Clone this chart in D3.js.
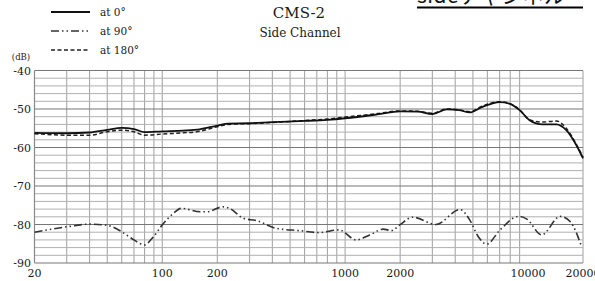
<!DOCTYPE html>
<html lang="en">
<head>
<meta charset="utf-8">
<title>CMS-2 Side Channel</title>
<script src="https://d3js.org/d3.v7.min.js"></script>
<style>
  body { margin: 0; background: #fff; }
  text { font-family: "DejaVu Serif", "Liberation Serif", serif; fill: #1a1a1a; }
</style>
</head>
<body>
<script type="text/javascript">

  // data (Hz, dB)
  var freq0 = [20, 30, 40, 50, 60, 70, 80, 100, 130, 160, 200, 230, 300, 400, 600, 800, 1000, 1500, 2000, 2500, 3000, 3600, 4200, 4800, 5600, 7000, 7900, 9000, 10200, 12000, 14300, 16200, 18400, 20000];
  var db0 = [-56.2, -56.3, -56.1, -55.4, -54.9, -55.2, -56.0, -55.8, -55.6, -55.3, -54.3, -53.8, -53.7, -53.4, -53.1, -52.8, -52.4, -51.4, -50.6, -50.7, -51.3, -50.1, -50.3, -50.9, -49.5, -48.2, -48.6, -50.3, -52.9, -54.0, -54.0, -55.5, -59.4, -62.8];
  var db180 = [-56.4, -56.8, -56.8, -55.9, -55.5, -55.9, -56.8, -56.5, -56.2, -55.8, -54.6, -54.0, -53.8, -53.5, -53.0, -52.6, -52.1, -51.2, -50.5, -50.6, -51.1, -50.0, -50.2, -50.7, -49.3, -48.1, -48.5, -50.2, -52.8, -53.4, -53.1, -55.0, -59.2, -62.5];

  var freq90 = [20, 30, 40, 50, 60, 70, 80, 89, 100, 115, 127, 161, 175, 215, 233, 278, 328, 420, 563, 723, 925, 1150, 1365, 1616, 1794, 1990, 2340, 3140, 4240, 4800, 5340, 5940, 7040, 8880, 9860, 11880, 14980, 17050, 19700];
  var db90 = [-82.0, -80.6, -79.9, -80.2, -81.9, -84.0, -85.3, -83.3, -80.1, -77.1, -75.8, -76.7, -76.7, -75.4, -75.8, -78.4, -79.0, -81.0, -81.6, -82.1, -81.4, -84.0, -82.7, -81.2, -81.6, -80.1, -78.1, -80.0, -76.1, -78.8, -83.1, -85.1, -81.4, -77.9, -78.6, -82.7, -77.9, -79.3, -85.9];

  var xTicks = [20, 100, 200, 1000, 2000, 10000, 20000];
  var yTicks = [-40, -50, -60, -70, -80, -90];
  var legendNames = ["at 0°", "at 90°", "at 180°"];

  var w = 595, h = 281;

  var svg = d3.select("body").append("svg")
      .attr("width", w)
      .attr("height", h);

  var x = d3.scaleLog().domain([20, 20000]).range([34.5, 583]);
  var y = d3.scaleLinear().domain([-90, -40]).range([263, 70.5]);

  // cropped heading at the top right
  svg.append("text")
      .attr("x", 417).attr("y", 3)
      .attr("textLength", 148)
      .style("font-family", "'Noto Sans CJK JP', 'Noto Sans', sans-serif")
      .style("font-size", "21px")
      .style("fill", "#111")
      .text("sideチャンネル");
  svg.append("line")
      .attr("x1", 417).attr("x2", 583)
      .attr("y1", 7.5).attr("y2", 7.5)
      .attr("stroke", "#000").attr("stroke-width", 2.2);

  // grid
  var grid = svg.append("g");
  var vLines = [];
  [10, 100, 1000].forEach(function(dec) {
    for (var k = 1; k <= 9; k++) {
      var f = dec * k;
      if (f > 20 && f < 20000) vLines.push(f);
    }
  });
  vLines.push(20000);

  grid.selectAll("line.v").data(vLines).enter().append("line")
      .attr("x1", d => x(d)).attr("x2", d => x(d))
      .attr("y1", y(-40)).attr("y2", y(-90))
      .attr("stroke", "#a8a8a8").attr("stroke-width", 1.1);

  grid.selectAll("line.h").data(d3.range(-90, -39, 2)).enter().append("line")
      .attr("x1", x(20)).attr("x2", x(20000))
      .attr("y1", d => y(d)).attr("y2", d => y(d))
      .attr("stroke", d => d % 10 === 0 ? "#777" : "#b0b0b0")
      .attr("stroke-width", d => d % 10 === 0 ? 1.2 : 1);

  grid.append("line")
      .attr("x1", x(20)).attr("x2", x(20))
      .attr("y1", y(-40)).attr("y2", y(-90))
      .attr("stroke", "#888").attr("stroke-width", 1.2);

  // axes labels
  svg.selectAll("text.yt").data(yTicks).enter().append("text")
      .attr("x", 31).attr("y", d => y(d) + 4)
      .attr("text-anchor", "end")
      .style("font-size", "11px")
      .text(d => "-" + Math.abs(d));

  svg.append("text")
      .attr("x", 21).attr("y", 60)
      .attr("text-anchor", "middle")
      .style("font-size", "8.5px")
      .text("(dB)");

  svg.selectAll("text.xt").data(xTicks).enter().append("text")
      .attr("x", d => x(d)).attr("y", 277)
      .attr("text-anchor", "middle")
      .style("font-size", "11px")
      .text(d => d);

  // title
  svg.append("text")
      .attr("x", 299).attr("y", 18)
      .attr("text-anchor", "middle")
      .style("font-size", "15px")
      .text("CMS-2");
  svg.append("text")
      .attr("x", 300).attr("y", 37)
      .attr("text-anchor", "middle")
      .style("font-size", "12px")
      .text("Side Channel");

  // curves
  var line = d3.line()
      .x(d => x(d[0]))
      .y(d => y(d[1]))
      .curve(d3.curveMonotoneX);

  var styles = [
    {dash: null, width: 1.8, color: "#111"},
    {dash: "8,3,1.5,3,1.5,3", width: 1.6, color: "#333"},
    {dash: "4,2.5", width: 1.5, color: "#222"}
  ];

  var series = [
    d3.zip(freq0, db180),
    d3.zip(freq90, db90),
    d3.zip(freq0, db0)
  ];
  var seriesStyle = [styles[2], styles[1], styles[0]];

  svg.selectAll("path.curve").data(series).enter().append("path")
      .attr("d", line)
      .attr("fill", "none")
      .attr("stroke", (d, i) => seriesStyle[i].color)
      .attr("stroke-width", (d, i) => seriesStyle[i].width)
      .attr("stroke-dasharray", (d, i) => seriesStyle[i].dash);

  // legend
  var legend = svg.append("g");
  legendNames.forEach(function(name, i) {
    var ly = 12 + i * 19;
    legend.append("line")
        .attr("x1", 51).attr("x2", 90)
        .attr("y1", ly).attr("y2", ly)
        .attr("stroke", styles[i].color)
        .attr("stroke-width", styles[i].width)
        .attr("stroke-dasharray", styles[i].dash);
    legend.append("text")
        .attr("x", 100).attr("y", ly + 3.5)
        .style("font-size", "10.5px")
        .text(name);
  });

</script>
</body>
</html>
